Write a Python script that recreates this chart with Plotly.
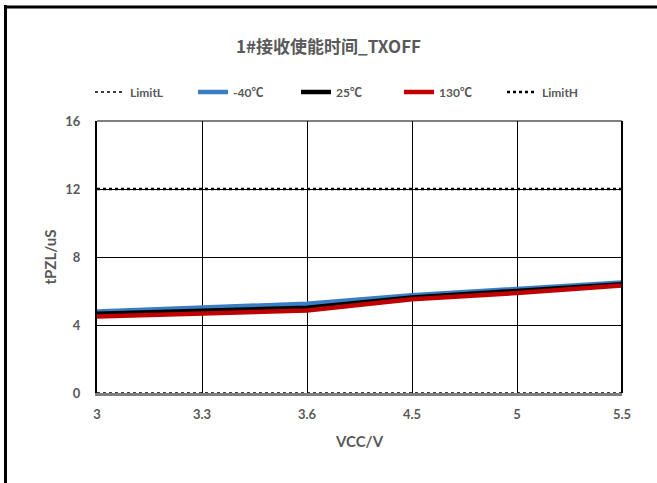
import plotly.graph_objects as go

vcc = ["3", "3.3", "3.6", "4.5", "5", "5.5"]
limit_l = [0, 0, 0, 0, 0, 0]
t_m40 = [4.80, 5.05, 5.25, 5.75, 6.12, 6.50]
t_25 = [4.66, 4.86, 5.02, 5.62, 5.98, 6.40]
t_130 = [4.50, 4.70, 4.85, 5.52, 5.88, 6.33]
limit_h = [12, 12, 12, 12, 12, 12]
y_ticks = [0, 4, 8, 12, 16]

W, H = 657, 483
L, R, T, B = 97, 35, 121, 90
pw, ph = W - L - R, H - T - B

def px(x):
    return (x - L) / pw

def py(y):
    return (H - B - y) / ph

gray = "#595959"
fig = go.Figure()
fig.add_trace(go.Scatter(x=vcc, y=limit_l, name="LimitL", mode="lines",
                         line=dict(color="black", width=1.5, dash="dot")))
fig.add_trace(go.Scatter(x=vcc, y=t_m40, name="-40℃", mode="lines",
                         line=dict(color="#3a7dc4", width=4.5)))
fig.add_trace(go.Scatter(x=vcc, y=t_25, name="25℃", mode="lines",
                         line=dict(color="black", width=4.5)))
fig.add_trace(go.Scatter(x=vcc, y=t_130, name="130℃", mode="lines",
                         line=dict(color="#c00000", width=4.5)))
fig.add_trace(go.Scatter(x=vcc, y=limit_h, name="LimitH", mode="lines",
                         line=dict(color="black", width=2.5, dash="dot")))

font_fam = "Lato, 'Noto Sans CJK SC', sans-serif"
fig.update_layout(
    width=W, height=H, autosize=False,
    margin=dict(l=L, r=R, t=T, b=B, autoexpand=False),
    paper_bgcolor="white", plot_bgcolor="white",
    font=dict(family=font_fam, color=gray, size=12),
    title=dict(text="<b>1#接收使能时间_TXOFF</b>", x=0.5, xref="container",
               xanchor="center", y=1 - 47 / H, yanchor="middle",
               font=dict(family="'Noto Sans CJK SC', sans-serif", size=17, color=gray)),
    legend=dict(orientation="h", x=px(90), xref="paper", xanchor="left",
                y=py(92), yref="paper", yanchor="middle",
                font=dict(size=12, color=gray, weight="bold"),
                bgcolor="rgba(0,0,0,0)", entrywidth=58, entrywidthmode="pixels"),
    showlegend=True,
    xaxis=dict(type="category", range=[0, 5], showgrid=True, gridcolor="black", gridwidth=1,
               showline=True, linecolor="#7f7f7f", linewidth=2.5, mirror=False,
               layer="above traces", ticklabelstandoff=8,
               ticks="", tickfont=dict(size=13, color=gray, family=font_fam, weight="bold"),
               title=dict(text="<b>VCC/V</b>", font=dict(size=15, color=gray), standoff=16),
               zeroline=False, fixedrange=True, automargin=False),
    yaxis=dict(range=[0, 16], tickvals=y_ticks, showgrid=True, gridcolor="black", gridwidth=1,
               showline=True, linecolor="black", linewidth=2, ticks="",
               ticklabelstandoff=12,
               tickfont=dict(size=13, color=gray, family=font_fam, weight="bold"),
               title=dict(text="<b>tPZL/uS</b>", font=dict(size=15, color=gray), standoff=5),
               zeroline=False, fixedrange=True, automargin=False),
)

# right plot border
fig.add_shape(type="line", xref="paper", yref="paper", x0=1, x1=1, y0=0, y1=1,
              line=dict(color="black", width=2))
# top plot border
fig.add_shape(type="line", xref="paper", yref="paper", x0=0, x1=1, y0=1, y1=1,
              line=dict(color="black", width=1))
# outer frame (left + top)
fig.add_shape(type="line", xref="paper", yref="paper", x0=px(5.5), x1=px(5.5),
              y0=py(483), y1=py(5), line=dict(color="black", width=3))
fig.add_shape(type="line", xref="paper", yref="paper", x0=px(4), x1=px(657),
              y0=py(7), y1=py(7), line=dict(color="black", width=3))

fig.write_html("out.html", config={"displayModeBar": False},
               post_script="document.body.style.margin='0';")
